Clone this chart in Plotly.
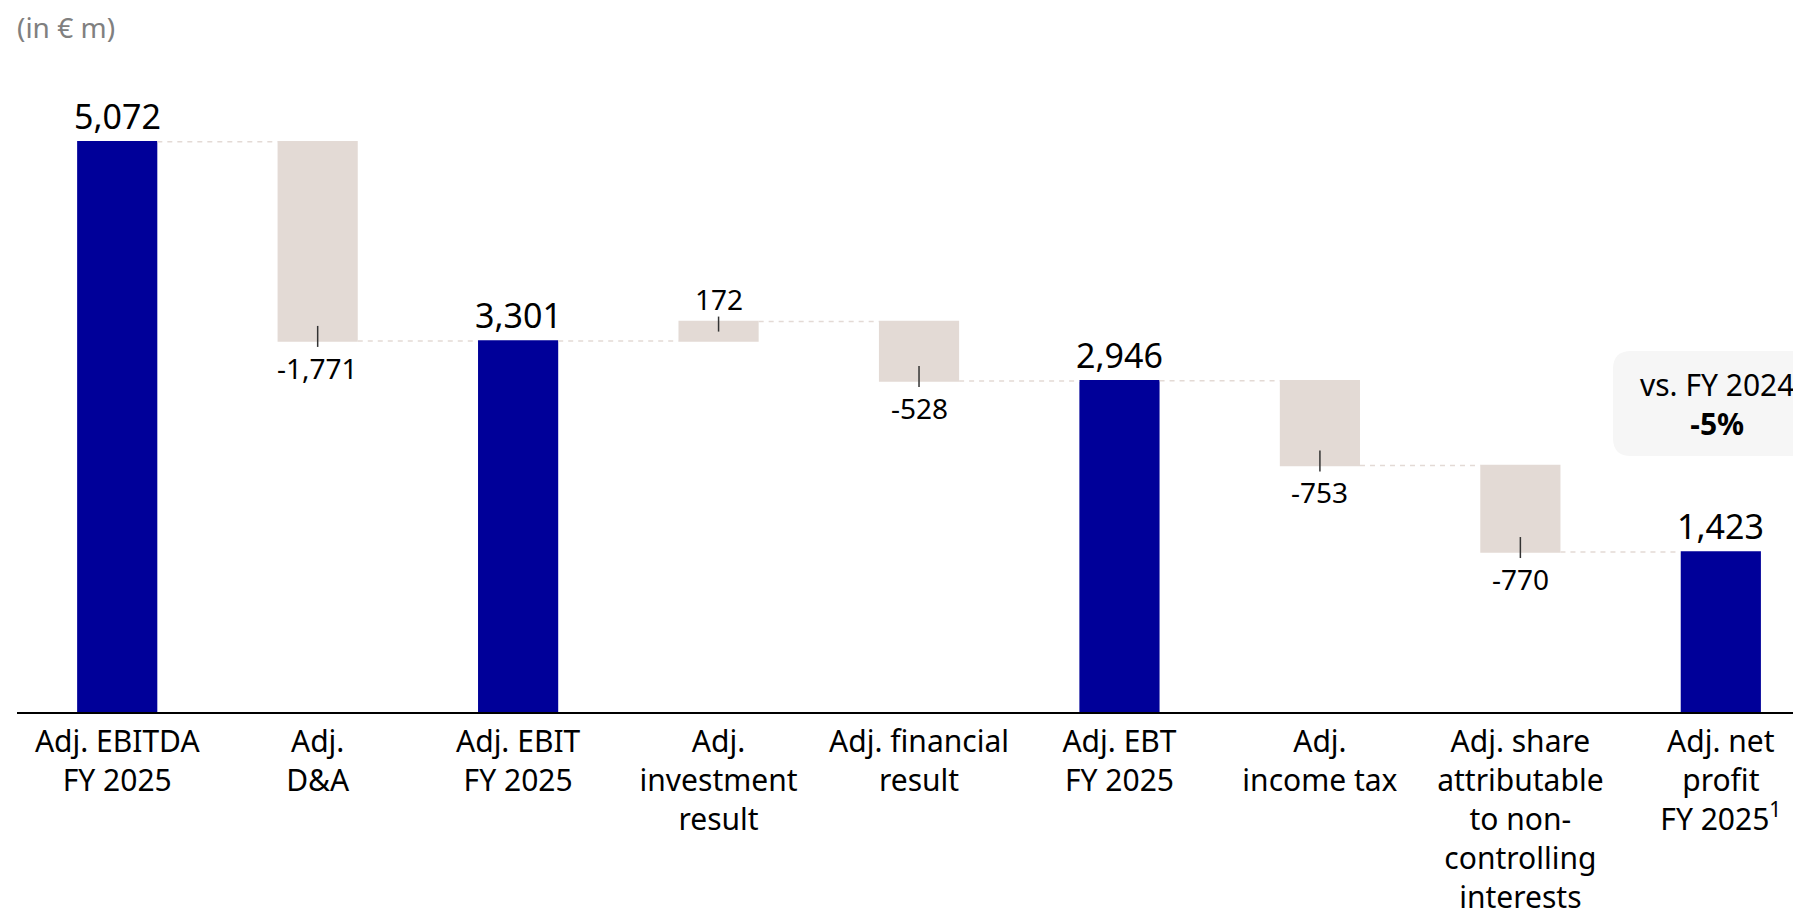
import plotly.graph_objects as go

categories = [
    "Adj. EBITDA<br>FY 2025",
    "Adj.<br>D&A",
    "Adj. EBIT<br>FY 2025",
    "Adj.<br>investment<br>result",
    "Adj. financial<br>result",
    "Adj. EBT<br>FY 2025",
    "Adj.<br>income tax",
    "Adj. share<br>attributable<br>to non-<br>controlling<br>interests",
    "Adj. net<br>profit<br>FY 2025<sup>1</sup>",
]
values = [5072, -1771, 3301, 172, -528, 2946, -753, -770, 1423]
measures = ["absolute", "relative", "absolute", "relative", "relative",
            "absolute", "relative", "relative", "absolute"]
unit_label = "(in € m)"
comparison_text = "vs. FY 2024<br><b>-5%</b>"

BLUE = "#000099"
BEIGE = "#e3dad5"
FONT = "Noto Sans"

# page body has an 8px margin; figure sized so it ends at the window edge
OFF = 8
W, H = 1801 - OFF, 908 - OFF
ML, MR, MT, MB = 17 - OFF, 0, 60 - OFF, 908 - 712
YMAX = 5800

x = list(range(len(categories)))

fig = go.Figure()
fig.add_trace(go.Waterfall(
    x=x, y=values, measure=measures,
    width=[0.4] * len(x),
    base=0,
    totals=dict(marker=dict(color=BLUE)),
    increasing=dict(marker=dict(color=BEIGE)),
    decreasing=dict(marker=dict(color=BEIGE)),
    connector=dict(mode="between", line=dict(color=BEIGE, width=1.5, dash="5px,5px")),
    textinfo="none",
    hoverinfo="skip",
))

annotations = []
shapes = []
level = 0
for i, (v, m) in enumerate(zip(values, measures)):
    txt = f"{v:,}"
    if m == "absolute":
        level = v
        annotations.append(dict(x=i, y=v, xref="x", yref="y", text=txt, showarrow=False,
                                yanchor="bottom", yshift=1,
                                font=dict(family=FONT, size=34, color="#000000")))
    else:
        end = level + v
        if v < 0:
            annotations.append(dict(x=i, y=end, xref="x", yref="y", text=txt, showarrow=False,
                                    yanchor="top", yshift=-6,
                                    font=dict(family=FONT, size=28, color="#000000")))
            shapes.append(dict(type="line", xref="x", yref="y", ysizemode="pixel",
                               yanchor=end, x0=i, x1=i, y0=-6, y1=15,
                               line=dict(color="#333333", width=1.5)))
        else:
            annotations.append(dict(x=i, y=end, xref="x", yref="y", text=txt, showarrow=False,
                                    yanchor="bottom", yshift=2,
                                    font=dict(family=FONT, size=28, color="#000000")))
            shapes.append(dict(type="line", xref="x", yref="y", ysizemode="pixel",
                               yanchor=end, x0=i, x1=i, y0=5, y1=-10,
                               line=dict(color="#333333", width=1.5)))
        level = end

pw, ph = W - ML - MR, H - MT - MB
axis_px = H - MB  # pixel row of the zero line inside the figure


def px_to_paper_x(px):
    return (px - OFF - ML) / pw


def px_to_paper_y(py):
    return (axis_px - (py - OFF)) / ph


# unit label
annotations.append(dict(x=px_to_paper_x(16), y=px_to_paper_y(27), xref="paper", yref="paper",
                        text=unit_label, showarrow=False, xanchor="left", yanchor="middle",
                        borderpad=0,
                        font=dict(family=FONT, size=28, color="#808080")))

# comparison box (rounded left corners, extends beyond right edge)
bx0 = px_to_paper_x(1613)
bx1 = 1.02
by0 = px_to_paper_y(456)
by1 = px_to_paper_y(351)
rx = 18 / pw
ry = 18 / ph
path = (f"M {bx1} {by1} L {bx0 + rx} {by1} Q {bx0} {by1} {bx0} {by1 - ry} "
        f"L {bx0} {by0 + ry} Q {bx0} {by0} {bx0 + rx} {by0} L {bx1} {by0} Z")
shapes.append(dict(type="path", xref="paper", yref="paper", path=path,
                   fillcolor="#f6f6f6", line=dict(width=0), layer="below"))
annotations.append(dict(x=px_to_paper_x(1717), y=(by0 + by1) / 2, xref="paper", yref="paper",
                        text=comparison_text, showarrow=False, xanchor="center", yanchor="middle",
                        font=dict(family=FONT, size=30, color="#000000")))

fig.update_layout(
    width=W, height=H,
    margin=dict(l=ML, r=MR, t=MT, b=MB),
    paper_bgcolor="white", plot_bgcolor="white",
    showlegend=False, hovermode=False,
    font=dict(family=FONT, color="#000000"),
    xaxis=dict(range=[-0.5, 8.4], tickmode="array", tickvals=x, ticktext=categories,
               showline=True, linecolor="#000000", linewidth=2, showgrid=False,
               zeroline=False, ticks="", tickfont=dict(family=FONT, size=30, color="#000000"),
               ticklabelstandoff=2, automargin=False, fixedrange=True),
    yaxis=dict(range=[0, YMAX], visible=False, showgrid=False, zeroline=False, fixedrange=True),
    annotations=annotations,
    shapes=shapes,
)

fig.write_html("out.html")
